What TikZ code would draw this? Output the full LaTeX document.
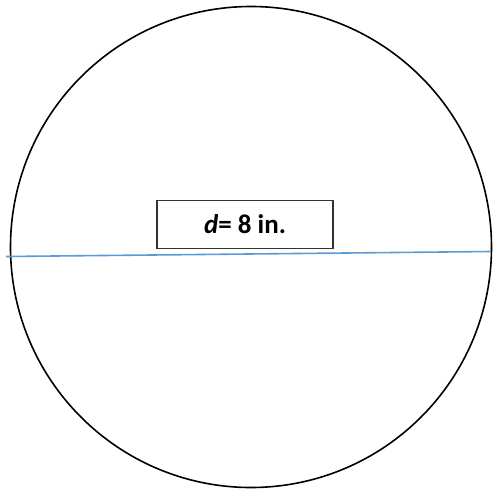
\documentclass[tikz,border=0pt]{standalone}
\usepackage{fontspec}
\setmainfont{Carlito}
\definecolor{lineblue}{RGB}{91,155,213}
\begin{document}
\begin{tikzpicture}[x=1pt,y=-1pt,
  outline/.style={draw=black,line width=1.6pt},
  labelbox/.style={draw=black!80,line width=1.8pt,minimum width=176pt,minimum height=48pt,inner sep=0pt},
  diam/.style={draw=lineblue,line width=1.6pt}]
\useasboundingbox (0,0) rectangle (493,491);
\node[outline,circle,minimum size=481pt,inner sep=0pt] (c) at (251,247) {};
\coordinate (l) at (6,256.5);
\coordinate (r) at (491,251.5);
\draw[diam] (l) -- (r);
\node[labelbox,fill=white] (b) at (245,224.5) {\raisebox{-4.5pt}{\fontsize{27}{32}\selectfont\bfseries\textit{d}= 8 in.}};
\end{tikzpicture}
\end{document}
